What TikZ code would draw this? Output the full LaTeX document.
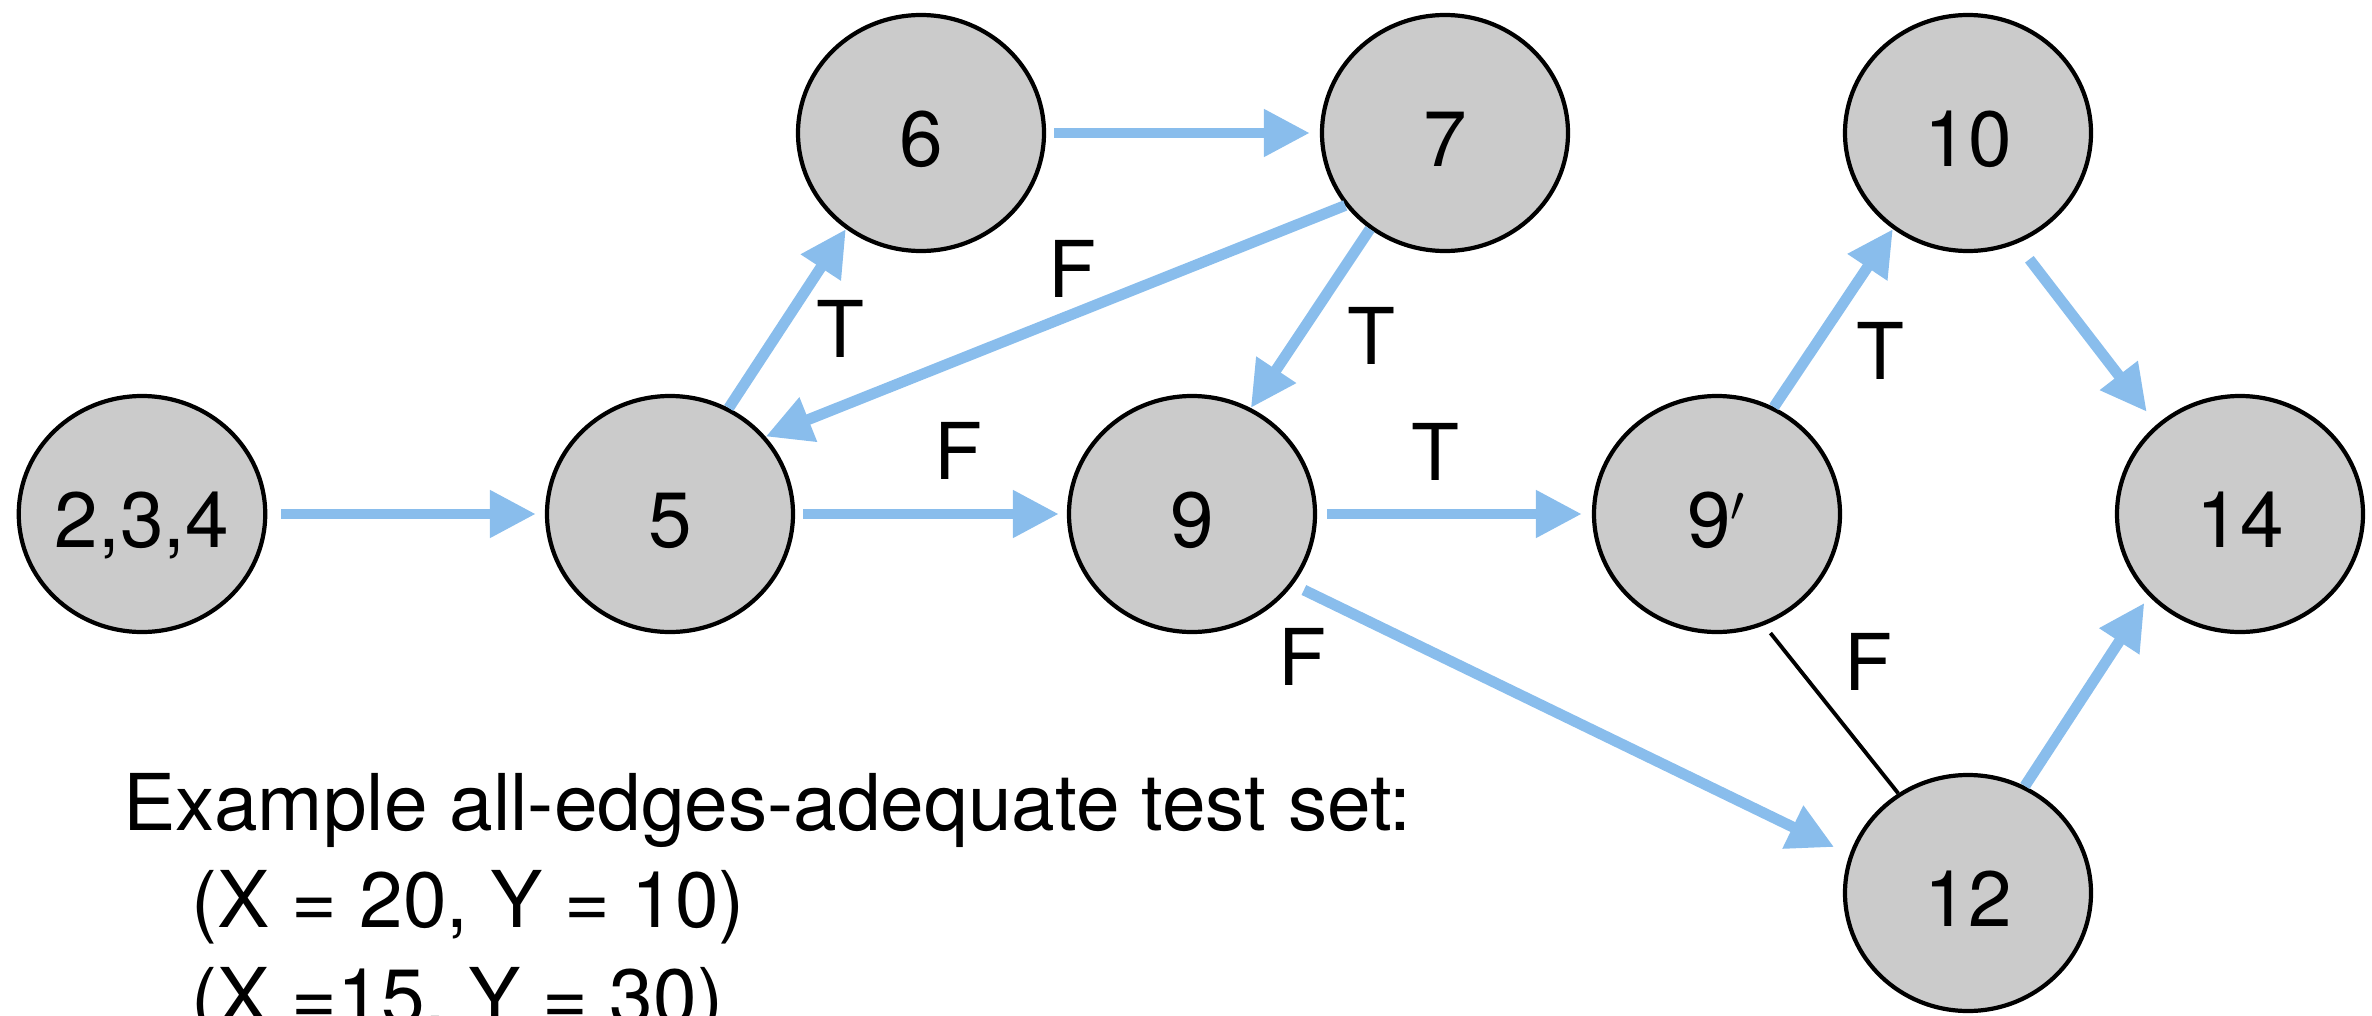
\documentclass[tikz,border=0pt]{standalone}
\usepackage{fontspec}
\setmainfont{TeX Gyre Heros}
\usetikzlibrary{arrows.meta,shapes.geometric}
\definecolor{flowblue}{RGB}{137,189,236}
\definecolor{stmtgray}{RGB}{203,203,203}

\begin{document}
\begin{tikzpicture}[
  stmt/.style={ellipse, draw=black, line width=1.2pt, fill=stmtgray,
    minimum width=2.46cm, minimum height=2.36cm, inner sep=0pt,
    text height=0.67cm, text depth=0cm, font=\fontsize{22.3}{26}\selectfont},
  flow/.style={draw=flowblue, line width=3.1pt,
    -{Triangle[length=0.46cm,width=0.45cm]}},
  branch/.style={inner sep=0pt, font=\fontsize{22.3}{26}\selectfont},
  tests/.style={anchor=base west, inner sep=0pt, font=\fontsize{22.3}{26}\selectfont}
]
\useasboundingbox (0,0) rectangle (23.72,10.15);

\node[stmt] (n234) at (1.42,5.01) {2,3,4};
\node[stmt] (n5)   at (6.70,5.01) {5};
\node[stmt] (n6)   at (9.21,8.82) {6};
\node[stmt] (n7)   at (14.45,8.82) {7};
\node[stmt] (n9)   at (11.92,5.01) {9};
\node[stmt] (n9p)  at (17.17,5.01) {9$'$};
\node[stmt] (n10)  at (19.68,8.82) {10};
\node[stmt] (n14)  at (22.40,5.01) {14};
\node[stmt] (n12)  at (19.68,1.22) {12};

\draw[flow, shorten <=0.14cm, shorten >=0.09cm] (n234) -- (n5);
\draw[flow, shorten <=0.08cm, shorten >=0.08cm] (n5) -- (n9);
\draw[flow, shorten <=0.10cm, shorten >=0.10cm] (n9) -- (n9p);
\draw[flow, shorten <=0.08cm, shorten >=0.10cm] (n6) -- (n7);
\draw[flow] (n5.61) -- (n6.232);
\draw[flow] (n7.216) -- (n5.39);
\draw[flow] (n7.232) -- (n9.61);
\draw[flow, shorten <=0.12cm, shorten >=0.17cm] (n9.-35) -- (n12.162);
\draw[flow] (n9p.62) -- (n10.232);
\draw[flow, shorten <=0.20cm, shorten >=0.16cm] (n10.-66) -- (n14.133);
\draw[flow, shorten >=0.08cm] (n12.62) -- (n14.222);
\draw[line width=1.1pt, shorten <=0.10cm] (n9p.-67) -- (n12.125);

\node[branch] (t56)   at (8.40,6.86)  {T};
\node[branch] (f75)   at (10.72,7.46) {F};
\node[branch] (t79)   at (13.71,6.79) {T};
\node[branch] (f59)   at (9.58,5.64)  {F};
\node[branch] (t99p)  at (14.35,5.63) {T};
\node[branch] (f912)  at (13.02,3.58) {F};
\node[branch] (t9p10) at (18.80,6.64) {T};
\node[branch] (f9p12) at (18.68,3.53) {F};

\node[tests] (ex)    at (1.23,1.85)  {Example all-edges-adequate test set:};
\node[tests] (case1) at (1.91,0.88)  {(X = 20, Y = 10)};
\node[tests] (case2) at (1.91,-0.09) {(X =15, Y = 30)};

\end{tikzpicture}
\end{document}
